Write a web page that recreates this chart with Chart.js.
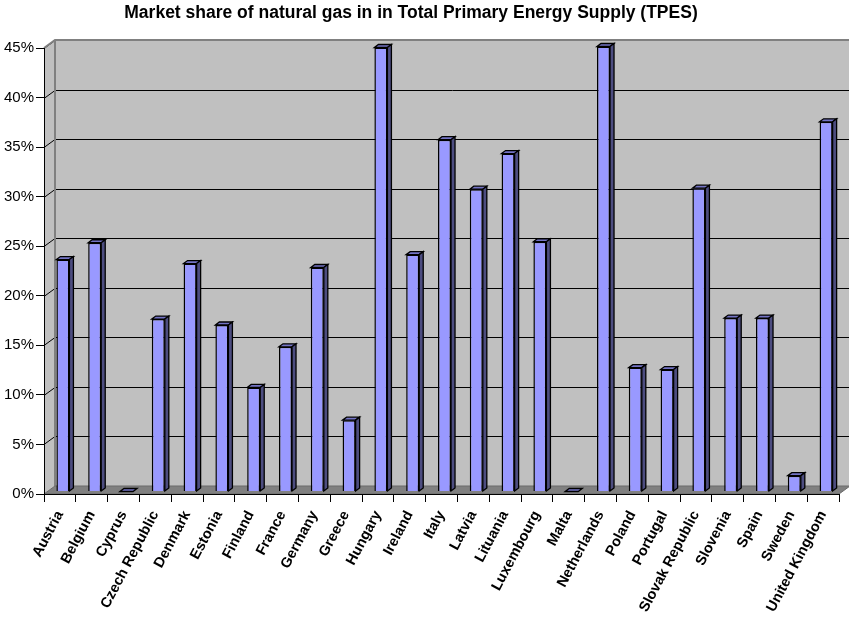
<!DOCTYPE html>
<html>
<head>
<meta charset="utf-8">
<title>Natural gas in TPES</title>
<script src="https://cdn.jsdelivr.net/npm/chart.js@4.4.0/dist/chart.umd.min.js"></script>
<style>
  html, body { margin: 0; padding: 0; background: #fff; }
  #wrap { width: 849px; height: 619px; }
</style>
</head>
<body>
<div id="wrap"><canvas id="gasChart" width="849" height="619"></canvas></div>
<script>
// market share of natural gas, % of TPES
const countries = ['Austria', 'Belgium', 'Cyprus', 'Czech Republic', 'Denmark', 'Estonia', 'Finland', 'France',
  'Germany', 'Greece', 'Hungary', 'Ireland', 'Italy', 'Latvia', 'Lituania', 'Luxembourg', 'Malta',
  'Netherlands', 'Poland', 'Portugal', 'Slovak Republic', 'Slovenia', 'Spain', 'Sweden', 'United Kingdom'];
const gasShare = [23.4, 25.1, 0, 17.4, 23.0, 16.8, 10.5, 14.6,
  22.6, 7.2, 44.8, 23.9, 35.5, 30.5, 34.1, 25.2, 0,
  44.9, 12.5, 12.3, 30.6, 17.5, 17.5, 1.6, 37.3];
const yTicks = [0, 5, 10, 15, 20, 25, 30, 35, 40, 45];

const FONT = "'Liberation Sans', Arial, Helvetica, sans-serif";
const WALL_DX = 11, WALL_DY = -8;     // back wall offset
const BAR_DX = 3, BAR_DY = -2.5;      // bar row sits a little behind the front plane
const DEPTH_DX = 4, DEPTH_DY = -3;    // bar thickness

function poly(ctx, pts, fill, stroke, lw) {
  ctx.beginPath();
  ctx.moveTo(pts[0][0], pts[0][1]);
  for (let i = 1; i < pts.length; i++) ctx.lineTo(pts[i][0], pts[i][1]);
  ctx.closePath();
  if (fill) { ctx.fillStyle = fill; ctx.fill(); }
  if (stroke) { ctx.strokeStyle = stroke; ctx.lineWidth = lw || 1; ctx.stroke(); }
}

const scene3d = {
  id: 'scene3d',
  beforeDraw(chart) {
    const { ctx, chartArea: a, scales: { y } } = chart;
    const L = a.left, R = a.right, T = a.top, B = a.bottom;
    ctx.save();
    ctx.fillStyle = '#fff';
    ctx.fillRect(0, 0, chart.width, chart.height);

    // back wall + side wall
    poly(ctx, [[L + WALL_DX, T + WALL_DY], [R + WALL_DX, T + WALL_DY], [R + WALL_DX, B + WALL_DY], [L + WALL_DX, B + WALL_DY]], '#c0c0c0');
    poly(ctx, [[L, T], [L + WALL_DX, T + WALL_DY], [L + WALL_DX, B + WALL_DY], [L, B]], '#c0c0c0');

    // gridlines across side and back wall
    ctx.strokeStyle = '#000';
    ctx.lineWidth = 1;
    yTicks.forEach(v => {
      if (v === 0) return;
      const py = Math.round(y.getPixelForValue(v)) + 0.5;
      ctx.beginPath();
      ctx.moveTo(L, py);
      ctx.lineTo(L + WALL_DX, py + WALL_DY);
      ctx.lineTo(R + WALL_DX, py + WALL_DY);
      ctx.stroke();
    });

    // wall edges
    ctx.strokeStyle = '#808080';
    ctx.lineWidth = 2;
    ctx.beginPath();
    ctx.moveTo(L, T);
    ctx.lineTo(L + WALL_DX, T + WALL_DY);
    ctx.lineTo(R + WALL_DX, T + WALL_DY);
    ctx.moveTo(L + WALL_DX, T + WALL_DY);
    ctx.lineTo(L + WALL_DX, B + WALL_DY);
    ctx.stroke();

    // floor
    poly(ctx, [[L, B], [L + WALL_DX, B + WALL_DY], [R + WALL_DX, B + WALL_DY], [R, B]], '#808080', '#6a6a6a', 1);

    // title
    ctx.fillStyle = '#000';
    ctx.font = 'bold 17.5px ' + FONT;
    ctx.textAlign = 'center';
    ctx.textBaseline = 'middle';
    ctx.fillText('Market share of natural gas in in Total Primary Energy Supply (TPES)', 411, 13);
    ctx.restore();
  },
  beforeDatasetsDraw(chart) {
    chart.ctx.save();
    chart.ctx.translate(BAR_DX, BAR_DY);
  },
  afterDatasetsDraw(chart) {
    const ctx = chart.ctx;
    chart.getDatasetMeta(0).data.forEach(bar => {
      const { x, y, base, width } = bar.getProps(['x', 'y', 'base', 'width'], true);
      const l = x - width / 2, r = x + width / 2;
      // top face
      poly(ctx, [[l, y], [l + DEPTH_DX, y + DEPTH_DY], [r + DEPTH_DX, y + DEPTH_DY], [r, y]], '#7373c4', '#000', 1.3);
      // side face
      if (base - y > 0.5) {
        poly(ctx, [[r, y], [r + DEPTH_DX, y + DEPTH_DY], [r + DEPTH_DX, base + DEPTH_DY], [r, base]], '#4d4d80', '#000', 1.3);
      }
    });
    ctx.restore();
  }
};

new Chart(document.getElementById('gasChart'), {
  type: 'bar',
  data: {
    labels: countries,
    datasets: [{
      data: gasShare,
      backgroundColor: '#9999ff',
      borderColor: '#000',
      borderWidth: 1.5,
      barPercentage: 0.41,
      categoryPercentage: 1
    }]
  },
  options: {
    responsive: false,
    animation: false,
    events: [],
    layout: { padding: { top: 48, right: 10, left: 0, bottom: 0 } },
    plugins: { legend: { display: false }, tooltip: { enabled: false }, title: { display: false } },
    scales: {
      x: {
        grid: { drawOnChartArea: false, offset: true, color: '#000', tickLength: 8 },
        border: { color: '#000' },
        ticks: {
          autoSkip: false, minRotation: 62, maxRotation: 62, padding: 6, color: '#000',
          font: { family: FONT, size: 14.5, weight: 'bold' }
        },
        afterFit(s) { s.height = 125; }
      },
      y: {
        min: 0, max: 45,
        grid: { drawOnChartArea: false, color: '#000', tickLength: 8 },
        border: { color: '#000' },
        afterBuildTicks(s) { s.ticks = yTicks.map(v => ({ value: v })); },
        ticks: { color: '#000', padding: 2, font: { family: FONT, size: 15 }, callback: v => v + '%' },
        afterFit(s) { s.width = 44; }
      }
    }
  },
  plugins: [scene3d]
});
</script>
</body>
</html>
